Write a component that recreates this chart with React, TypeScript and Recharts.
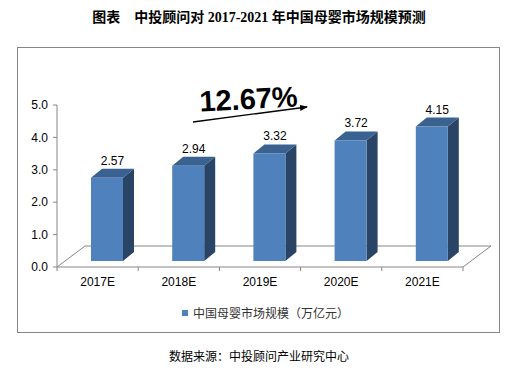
import React from 'react'
import { BarChart, Bar, XAxis, YAxis, LabelList } from 'recharts'

const years = ['2017E', '2018E', '2019E', '2020E', '2021E']
const marketSize = [2.57, 2.94, 3.32, 3.72, 4.15]
const yTicks = [0, 1, 2, 3, 4, 5]
const seriesName = '中国母婴市场规模（万亿元）'
const growthLabel = '12.67%'
const titleText = '图表　中投顾问对 2017-2021 年中国母婴市场规模预测'
const sourceText = '数据来源：中投顾问产业研究中心'

const data = years.map((year, i) => ({ year, value: marketSize[i] }))

const W = 518
const H = 374
const PLOT = { left: 57, top: 105, right: 463, bottom: 267 }
const CAT_W = (PLOT.right - PLOT.left) / years.length
const FLOOR_DX = 28
const FLOOR_DY = 21
const BAR_DX = 11
const BAR_DY = 9
const SHIFT_X = 9
const SHIFT_Y = 6

const COLORS = {
  front: '#4f81bd',
  side: '#2a4466',
  top: '#3a6291',
  axis: '#868686',
  text: '#000000',
}

const SANS = '"Liberation Sans", Arial, "Noto Sans CJK SC", sans-serif'

function Bar3D(props: any) {
  const { x, y, width, height } = props
  if (height == null || width == null) return null
  const fx = x + SHIFT_X
  const fy = y - SHIFT_Y
  const w = width
  const h = height
  return (
    <g>
      <polygon
        points={`${fx + w},${fy} ${fx + w + BAR_DX},${fy - BAR_DY} ${fx + w + BAR_DX},${fy + h - BAR_DY} ${fx + w},${fy + h}`}
        fill={COLORS.side}
      />
      <polygon
        points={`${fx},${fy} ${fx + BAR_DX},${fy - BAR_DY} ${fx + w + BAR_DX},${fy - BAR_DY} ${fx + w},${fy}`}
        fill={COLORS.top}
      />
      <rect x={fx} y={fy} width={w} height={h} fill={COLORS.front} />
    </g>
  )
}

function ValueLabel(props: any) {
  const { x, y, width, value } = props
  return (
    <text
      x={x + SHIFT_X + (width + BAR_DX) / 2}
      y={y - SHIFT_Y - BAR_DY - 4}
      textAnchor="middle"
      fontSize={12}
      fontFamily={SANS}
      fill={COLORS.text}
    >
      {Number(value).toFixed(2)}
    </text>
  )
}

function YearTick(props: any) {
  const { x, payload, index } = props
  const half = CAT_W / 2
  return (
    <g>
      <line x1={x - half} y1={PLOT.bottom} x2={x - half} y2={PLOT.bottom + 4} stroke={COLORS.axis} />
      {index === years.length - 1 && (
        <line x1={x + half} y1={PLOT.bottom} x2={x + half} y2={PLOT.bottom + 4} stroke={COLORS.axis} />
      )}
      <text x={x} y={PLOT.bottom + 19} textAnchor="middle" fontSize={12} fontFamily={SANS} fill={COLORS.text}>
        {payload.value}
      </text>
    </g>
  )
}

export default function App() {
  const { left, right, bottom } = PLOT
  return (
    <div style={{ position: 'relative', width: W, height: H, background: '#fff', overflow: 'hidden' }}>
      <style>{'body{margin:0}'}</style>
      <div
        style={{
          position: 'absolute',
          top: 6,
          left: 0,
          width: W,
          textAlign: 'center',
          fontFamily: '"Liberation Serif", "Noto Sans CJK SC", serif',
          fontWeight: 'bold',
          fontSize: 14,
          whiteSpace: 'pre',
        }}
      >
        {titleText}
      </div>
      <div
        style={{
          position: 'absolute',
          left: 17,
          top: 47,
          width: 483,
          height: 286,
          border: `1px solid ${COLORS.axis}`,
          boxSizing: 'border-box',
        }}
      />
      <svg width={W} height={H} style={{ position: 'absolute', left: 0, top: 0 }}>
        <polyline
          points={`${left},${bottom} ${left + FLOOR_DX},${bottom - FLOOR_DY} ${right + FLOOR_DX},${bottom - FLOOR_DY} ${right},${bottom}`}
          fill="none"
          stroke={COLORS.axis}
        />
      </svg>
      <div style={{ position: 'absolute', left: 0, top: 0 }}>
        <BarChart
          width={W}
          height={H}
          data={data}
          margin={{ top: PLOT.top, right: W - PLOT.right, left: PLOT.left - 40, bottom: H - PLOT.bottom - 30 }}
          barSize={32}
        >
          <XAxis
            dataKey="year"
            height={30}
            axisLine={{ stroke: COLORS.axis }}
            tickLine={false}
            tick={<YearTick />}
            interval={0}
          />
          <YAxis
            width={40}
            domain={[0, 5]}
            ticks={yTicks}
            tickFormatter={(v: number) => v.toFixed(1)}
            axisLine={{ stroke: COLORS.axis }}
            tickLine={{ stroke: COLORS.axis }}
            tickSize={4}
            tickMargin={5}
            tick={{ fontSize: 12, fill: COLORS.text, fontFamily: SANS }}
          />
          <Bar dataKey="value" name={seriesName} shape={<Bar3D />} isAnimationActive={false}>
            <LabelList dataKey="value" content={<ValueLabel />} />
          </Bar>
        </BarChart>
      </div>
      <div
        style={{
          position: 'absolute',
          left: 182,
          top: 304,
          display: 'flex',
          alignItems: 'center',
          fontFamily: SANS,
          fontSize: 12,
          color: '#333',
          whiteSpace: 'nowrap',
        }}
      >
        <span style={{ width: 6, height: 6, background: COLORS.front, marginRight: 5 }} />
        <span>{seriesName}</span>
      </div>
      <svg width={W} height={H} style={{ position: 'absolute', left: 0, top: 0, pointerEvents: 'none' }}>
        <defs>
          <marker id="arrowHead" markerWidth="8" markerHeight="6" refX="7" refY="3" orient="auto" markerUnits="userSpaceOnUse">
            <path d="M0,0 L8,3 L0,6 Z" fill="#000" />
          </marker>
        </defs>
        <line x1={193} y1={122} x2={307} y2={107} stroke="#000" strokeWidth={1.3} markerEnd="url(#arrowHead)" />
        <text
          x={249}
          y={109}
          textAnchor="middle"
          fontSize={29}
          fontWeight="bold"
          fontFamily={SANS}
          fill="#000"
          transform="rotate(-3 249 109)"
        >
          {growthLabel}
        </text>
      </svg>
      <div
        style={{
          position: 'absolute',
          top: 347,
          left: 0,
          width: W,
          textAlign: 'center',
          fontFamily: '"Noto Sans CJK SC", sans-serif',
          fontSize: 12,
          color: '#000',
        }}
      >
        {sourceText}
      </div>
    </div>
  )
}
